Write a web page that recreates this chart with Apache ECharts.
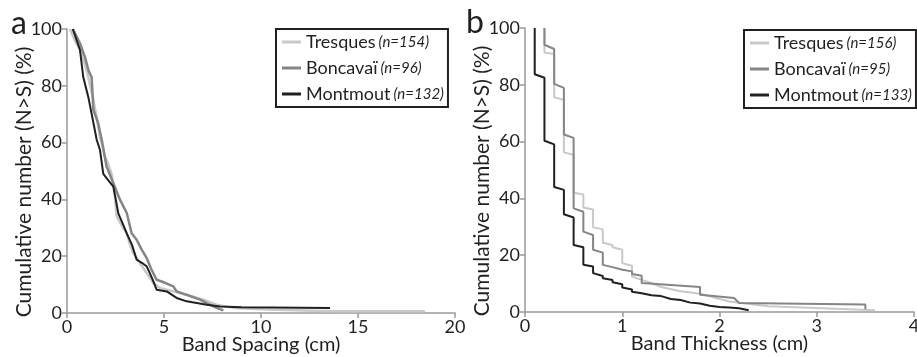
<!DOCTYPE html>
<html><head><meta charset="utf-8">
<script src="https://cdn.jsdelivr.net/npm/echarts@6/dist/echarts.min.js"></script>
<style>html,body{margin:0;padding:0;background:#fff}#c{width:917px;height:357px}</style>
</head><body><div id="c"></div>
<script>
// ---- Panel a: Band spacing (cm) vs cumulative % ----
var tresquesA_x = [0.15,0.4,0.67,0.9,1.1,1.36,1.5,1.70,1.96,2.15,2.30,2.47,2.56,2.8,3.08,3.25,3.42,3.76,4.11,4.45,4.79,5.48,6.17,7.03,7.71,8.57,10.3,13.7,18.45];
var tresquesA_y = [100,96,92.6,88,83,75,70,62,55,52,49,41,34,31,28,24,21,17.6,14,10.5,8.8,7.6,6.4,4.7,2.9,1.8,1.2,0.6,0.6];
var boncavaiA_x = [0.3,0.67,0.93,1.1,1.27,1.36,1.6,1.79,2.04,2.39,2.56,2.73,3.08,3.33,3.59,3.85,4.11,4.36,4.62,4.88,5.48,5.65,6.17,6.86,7.20,7.71,8.06];
var boncavaiA_y = [100,95,90,85.6,83,71.5,67,61,51.6,45.7,42.8,39.9,35.2,28.1,25.8,22.3,19.3,15.2,11.7,11.1,9.4,7.6,6.4,4.7,3.5,1.8,0.9];
var montmoutA_x = [0.3,0.5,0.67,0.84,1.10,1.36,1.53,1.70,1.87,2.1,2.39,2.65,2.9,3.08,3.35,3.59,3.9,4.11,4.4,4.62,5.14,5.65,6.17,7.20,7.89,9.0,13.56];
var montmoutA_y = [100,96,92.6,83,76,67,61,57.4,49,47,44.5,35,31,28,24,18.8,17.5,16.4,12,8.2,7.6,5.3,4.1,2.9,2.3,2.0,1.8];

// ---- Panel b: Band thickness (cm) vs cumulative % ----
var tresquesB_x = [0.2,0.2,0.3,0.3,0.4,0.4,0.5,0.5,0.6,0.6,0.7,0.7,0.8,0.8,0.9,0.9,1.0,1.0,1.1,1.1,1.2,1.3,1.4,1.6,1.8,2.1,2.5,3.6];
var tresquesB_y = [100,91.4,90.8,75.6,74.7,56.2,55.4,42,41.4,36.8,36.1,29.8,29.1,24.4,23.6,22.8,21.9,17.2,16.3,12.5,11.3,10.2,8.8,7.3,6.4,3.7,2.0,0.6];
var boncavaiB_x = [0.2,0.2,0.3,0.3,0.4,0.4,0.5,0.5,0.6,0.6,0.7,0.7,0.8,0.8,0.9,1.0,1.1,1.1,1.2,1.2,1.8,1.8,2.15,2.2,3.5,3.5];
var boncavaiB_y = [100,94.1,92.6,80.3,78.9,62.5,61.3,36.5,35.3,28.3,27.1,21.9,20.9,16.6,15.8,14.9,14.3,13.4,12.8,10.2,8.8,6.1,4.9,3.2,2.6,1.0];
var montmoutB_x = [0.1,0.1,0.2,0.2,0.3,0.3,0.4,0.4,0.5,0.5,0.6,0.6,0.7,0.7,0.8,0.8,0.9,0.9,1.0,1.0,1.1,1.1,1.2,1.2,1.3,1.4,1.4,1.5,1.6,1.6,1.7,1.8,1.8,1.9,2.0,2.1,2.2,2.3];
var montmoutB_y = [100,83.7,82.5,60.3,59,44,43,34.4,33.3,23.6,22.8,16.6,16,13.7,12.7,11.9,11.3,10.5,9.8,8.6,7.9,7.1,6.6,6.2,5.9,5.6,4.9,4.6,4.2,3.6,3.3,3.0,2.5,2.2,1.8,1.6,1.3,0.6];

var seriesNamesA = ['Tresques (n=154)','Boncavaï (n=96)','Montmout (n=132)'];
var seriesNamesB = ['Tresques (n=156)','Boncavaï (n=95)','Montmout (n=133)'];
var xTicksA = [0,5,10,15,20];
var xTicksB = [0,1,2,3,4];
var yTicks = [0,20,40,60,80,100];

var colors = ['#c9c9c9','#858585','#231f20'];
var FONT = 'Lato';
var TXT = '#231f20';
var AX = '#9a9a9a';

function pairs(xs, ys){ return xs.map(function(x,i){ return [x, ys[i]]; }); }

function legendFmt(name){
  var i = name.indexOf(' (');
  return '{a|' + name.slice(0,i) + '} {b|' + name.slice(i+1) + '}';
}

function mkX(idx, ticks, name){
  return {
    type:'value', gridIndex:idx, min:ticks[0], max:ticks[ticks.length-1], interval:ticks[1]-ticks[0],
    name:name, nameLocation:'middle', nameGap:22, nameMoveOverlap:false,
    nameTextStyle:{fontFamily:FONT, fontSize:20, color:TXT},
    axisLine:{lineStyle:{color:AX, width:1.5}},
    axisTick:{inside:false, length:5, lineStyle:{color:AX, width:1.5}},
    axisLabel:{fontFamily:FONT, fontSize:18, color:TXT, margin:5},
    splitLine:{show:false}
  };
}
function mkY(idx){
  return {
    type:'value', gridIndex:idx, min:yTicks[0], max:yTicks[yTicks.length-1], interval:yTicks[1]-yTicks[0],
    name:'Cumulative number (N>S) (%)', nameLocation:'middle', nameGap:32, nameRotate:90, nameMoveOverlap:false,
    nameTextStyle:{fontFamily:FONT, fontSize:21, color:TXT, padding:[0,22,0,0]},
    axisLine:{show:true, lineStyle:{color:AX, width:1.5}},
    axisTick:{show:true, length:5, lineStyle:{color:AX, width:1.5}},
    axisLabel:{fontFamily:FONT, fontSize:18, color:TXT, margin:5},
    splitLine:{show:false}
  };
}
function mkLegend(names, left, top){
  return {
    data:names, orient:'vertical', left:left, top:top,
    itemWidth:19, itemHeight:3, itemGap:6,
    borderColor:'#231f20', borderWidth:2, padding:[3,4,3,6],
    icon:'rect',
    formatter:legendFmt,
    textStyle:{fontFamily:FONT, color:TXT, lineHeight:20, rich:{
      a:{fontFamily:FONT, fontSize:18, color:TXT, lineHeight:20},
      b:{fontFamily:FONT, fontSize:15, fontStyle:'italic', color:TXT, lineHeight:20}
    }}
  };
}
function mkSeries(name, data, color, xi, w){
  return {type:'line', name:name, data:data, xAxisIndex:xi, yAxisIndex:xi,
    showSymbol:false, symbol:'none', color:color,
    lineStyle:{color:color, width:w}, animation:false};
}

var chart = echarts.init(document.getElementById('c'));
chart.setOption({
  animation:false,
  textStyle:{fontFamily:FONT},
  grid:[
    {left:67, right:462, top:29, bottom:44, containLabel:false, outerBoundsMode:'none'},
    {left:525, right:3, top:28, bottom:45, containLabel:false, outerBoundsMode:'none'}
  ],
  xAxis:[mkX(0,xTicksA,'Band Spacing (cm)'), mkX(1,xTicksB,'Band Thickness (cm)')],
  yAxis:[mkY(0), mkY(1)],
  legend:[mkLegend(seriesNamesA, 276, 29), mkLegend(seriesNamesB, 744, 30)],
  series:[
    mkSeries(seriesNamesA[0], pairs(tresquesA_x,tresquesA_y), colors[0], 0, 2.5),
    mkSeries(seriesNamesA[1], pairs(boncavaiA_x,boncavaiA_y), colors[1], 0, 2.5),
    mkSeries(seriesNamesA[2], pairs(montmoutA_x,montmoutA_y), colors[2], 0, 2),
    mkSeries(seriesNamesB[0], pairs(tresquesB_x,tresquesB_y), colors[0], 1, 2),
    mkSeries(seriesNamesB[1], pairs(boncavaiB_x,boncavaiB_y), colors[1], 1, 2),
    mkSeries(seriesNamesB[2], pairs(montmoutB_x,montmoutB_y), colors[2], 1, 2)
  ],
  graphic:[
    {type:'text', left:11, top:8, style:{text:'a', font:'32px Lato', fill:TXT}},
    {type:'text', left:466, top:7, style:{text:'b', font:'32px Lato', fill:TXT}}
  ]
});
</script></body></html>
